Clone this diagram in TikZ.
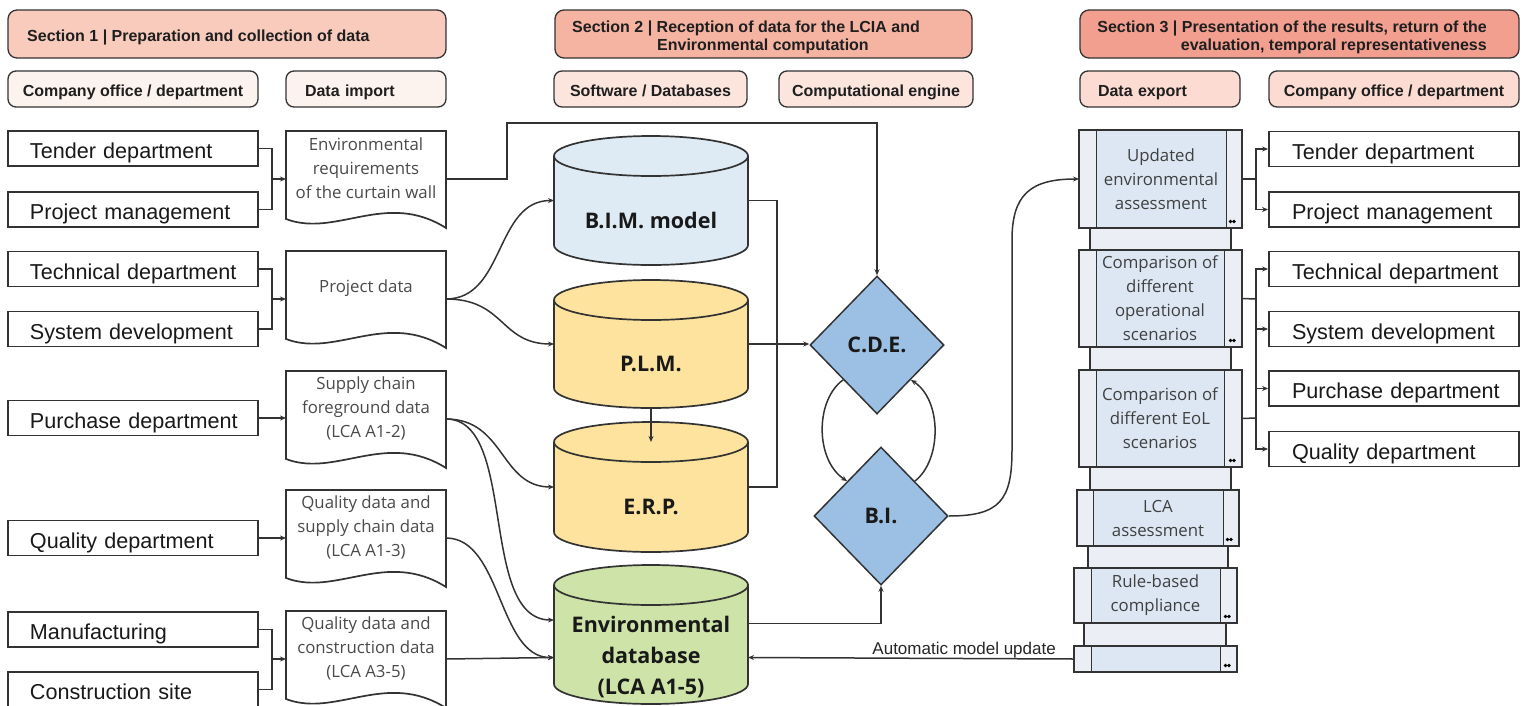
\documentclass[tikz,border=0pt]{standalone}
\usepackage{fontspec}
\setmainfont{Liberation Sans}
\newfontfamily\osans{Open Sans}
\usetikzlibrary{arrows.meta,shapes.geometric,fit,calc}

\definecolor{lineC}{HTML}{333333}
\definecolor{secA}{HTML}{F8CBBC}
\definecolor{secB}{HTML}{F5B3A2}
\definecolor{secC}{HTML}{F29F90}
\definecolor{subA}{HTML}{FCF3EE}
\definecolor{subB}{HTML}{FCE5DD}
\definecolor{subC}{HTML}{FCDCD2}
\definecolor{bimC}{HTML}{DEEBF5}
\definecolor{plmC}{HTML}{FDE39D}
\definecolor{envC}{HTML}{CDE3A8}
\definecolor{diaC}{HTML}{9CC0E4}
\definecolor{stackOut}{HTML}{EBEFF5}
\definecolor{stackIn}{HTML}{DCE7F3}
\definecolor{docText}{HTML}{4A4A4A}

\tikzset{
  secbox/.style={draw=lineC, line width=1.3pt, rounded corners=9pt,
    minimum height=48pt, inner sep=0pt},
  sectext/.style={font=\bfseries\fontsize{16}{18}\selectfont, text=black!88,
    inner sep=0pt},
  subhead/.style={draw=lineC, line width=1.3pt, rounded corners=8pt,
    minimum height=36pt, inner ysep=0pt, text height=15pt, text depth=0pt,
    font=\bfseries\fontsize{16}{18}\selectfont, text=black!88},
  dept/.style={draw=lineC, line width=1.9pt, minimum height=35pt,
    inner xsep=22pt, inner ysep=0pt, text width=206pt, align=left,
    text height=20.5pt, text depth=0pt,
    font=\fontsize{21.6}{24}\selectfont, text=black!90},
  doctext/.style={font=\osans\fontsize{16.8}{24}\selectfont, text=docText,
    align=center, inner sep=0pt},
  docline/.style={draw=lineC, line width=1.7pt},
  conn/.style={draw=lineC, line width=1.5pt},
  arr/.style={conn, -{Stealth[length=6pt,width=5pt]}},
  cyltext/.style={font=\osans\bfseries\fontsize{21.5}{31}\selectfont,
    align=center, text=black!90, inner sep=0pt},
  dia/.style={diamond, draw=lineC, line width=1.5pt, fill=diaC,
    minimum width=134pt, minimum height=138pt, inner sep=0pt,
    font=\osans\bfseries\fontsize{21.5}{24}\selectfont, text=black!90},
  stacktext/.style={font=\osans\fontsize{16.8}{24}\selectfont,
    text=black!75, align=center, inner sep=0pt},
  lbl/.style={font=\fontsize{17}{19}\selectfont, text=black!85, inner sep=0pt},
  boxfit/.style={inner sep=0pt, outer sep=0pt},
}

% document shape (flowchart "document") drawn round a text node
\newcommand\docframe[1]{%
  \draw[docline] ([shift={(-80,-37)}]#1.center) -- ([shift={(80,-37)}]#1.center)
    -- ([shift={(80,60)}]#1.center)
    .. controls ([shift={(20,22)}]#1.center) and ([shift={(-30,70)}]#1.center)
    .. ([shift={(-80,51)}]#1.center) -- cycle;}

% vertical database cylinder: fill, y of top ellipse, y of bottom ellipse
\newcommand\dbcyl[3]{%
  \fill[#1] (554,#2) rectangle (748,#3);
  \fill[#1] (651,#3) ellipse [x radius=97, y radius=20];
  \draw[lineC, line width=1.7pt] (554,#2) -- (554,#3)
    arc [start angle=180, end angle=0, x radius=97, y radius=20] -- (748,#2);
  \draw[lineC, line width=1.7pt, fill=#1] (651,#2) ellipse [x radius=97, y radius=20];}

% export box: name, left, top, right, bottom, inner left, inner right, text
\newcommand\stackbox[8]{%
  \fill[stackOut] (#2,#3) rectangle (#4,#5);
  \fill[stackIn] (#6,#3) rectangle (#7,#5);
  \draw[lineC, line width=0.9pt] (#6,#3) -- (#6,#5) (#7,#3) -- (#7,#5);
  \draw[lineC, line width=1.6pt] (#2,#3) rectangle (#4,#5);
  \fill[black] (#4-11.5,#5-6.5) circle[radius=1.8] (#4-8,#5-6.5) circle[radius=1.8];
  \node[boxfit, fit={(#2,#3) (#4,#5)}] (#1) {};
  \node[stacktext] (#1t) at ({(#6+#7)/2},{(#3+#5)/2}) {#8};}

\begin{document}
\begin{tikzpicture}[x=1pt,y=-1pt]
\fill[white] (0,0) rectangle (1527,705);
\useasboundingbox (0,0) rectangle (1527,705);
\clip (0,0) rectangle (1527,705);

% ---------- section headers ----------
\node[secbox, fill=secA, minimum width=438pt] (s1) at (227,34) {};
\node[secbox, fill=secB, minimum width=417pt] (s2) at (763.5,34) {};
\node[secbox, fill=secC, minimum width=439pt] (s3) at (1299.5,34) {};
\node[sectext, anchor=base west] (s1t) at (27,41.5) {Section 1 | Preparation and collection of data};
\node[sectext, align=left, anchor=west] (s2t) at (572,37.5)
  {Section 2 | Reception of data for the LCIA and\\\hspace*{85pt}Environmental computation};
\node[sectext, align=right, anchor=east] (s3t) at (1487,37.5)
  {Section 3 | Presentation of the results, return of the\\evaluation, temporal representativeness};

\node[subhead, fill=subA, minimum width=250pt] (h1) at (133,89) {Company office / department};
\node[subhead, fill=subA, minimum width=160pt, text width=122pt, align=left,
  inner xsep=19pt] (h2) at (366,89) {Data import};
\node[subhead, fill=subB, minimum width=193pt] (h3) at (650.5,89) {Software / Databases};
\node[subhead, fill=subB, minimum width=194pt] (h4) at (876,89) {Computational engine};
\node[subhead, fill=subC, minimum width=160pt, text width=124pt, align=left,
  inner xsep=18pt] (h5) at (1160,89) {Data export};
\node[subhead, fill=subC, minimum width=250pt] (h6) at (1394,89) {Company office / department};

% ---------- departments (left) ----------
\node[dept] (ltender) at (133,148.5) {\mbox{Tender department}};
\node[dept] (lpm)     at (133,209.5) {\mbox{Project management}};
\node[dept] (ltech)   at (133,269)   {\mbox{Technical department}};
\node[dept] (lsys)    at (133,329)   {\mbox{System development}};
\node[dept] (lpur)    at (133,418)   {\mbox{Purchase department}};
\node[dept] (lqual)   at (133,538)   {\mbox{Quality department}};
\node[dept] (lman)    at (133,629.5) {\mbox{Manufacturing}};
\node[dept] (lcons)   at (133,689.5) {\mbox{Construction site}};

% ---------- imported data documents ----------
\node[doctext] (d1) at (366,168) {Environmental\\requirements\\of the curtain wall};
\node[doctext] (d2) at (366,288) {Project data};
\node[doctext] (d3) at (366,408) {Supply chain\\foreground data\\(LCA A1-2)};
\node[doctext] (d4) at (366,527) {Quality data and\\supply chain data\\(LCA A1-3)};
\node[doctext] (d5) at (366,648) {Quality data and\\construction data\\(LCA A3-5)};
\foreach \d in {d1,d2,d3,d4,d5}{
  \docframe{\d}
  \coordinate (\d in)  at ([shift={(-80,11)}]\d.center);
  \coordinate (\d out) at ([shift={(80,11)}]\d.center);
}

% ---------- databases ----------
\dbcyl{bimC}{156}{245}
\dbcyl{plmC}{300}{388}
\dbcyl{plmC}{442}{532}
\dbcyl{envC}{585}{684}
\node[boxfit, fit={(554,156) (748,245)}] (bim) {};
\node[boxfit, fit={(554,300) (748,388)}] (plm) {};
\node[boxfit, fit={(554,442) (748,532)}] (erp) {};
\node[boxfit, fit={(554,585) (748,684)}] (env) {};
\node[cyltext] (bimt) at (651,220) {B.I.M. model};
\node[cyltext] (plmt) at (651,364) {P.L.M.};
\node[cyltext] (erpt) at (651,507) {E.R.P.};
\node[cyltext] (envt) at (651,657) {Environmental\\database\\(LCA A1-5)};

% ---------- computational engines ----------
\node[dia] (cde) at (877,345) {C.D.E.};
\node[dia] (bi)  at (881,516) {B.I.};

% ---------- export stack ----------
\foreach \l/\t/\r/\b in {1090/228/1231/250, 1090/347/1231/370, 1090/467/1231/490,
                         1088/546/1228/568, 1084/623/1226/646}{
  \fill[stackOut] (\l,\t) rectangle (\r,\b);
  \draw[lineC, line width=1.6pt] (\l,\t) -- (\l,\b) (\r,\t) -- (\r,\b);
}
\stackbox{u1}{1079}{130}{1242}{228}{1096}{1226}{Updated\\environmental\\assessment}
\stackbox{u2}{1079}{250}{1242}{347}{1096}{1224}{Comparison of\\different\\operational\\scenarios}
\stackbox{u3}{1079}{370}{1242}{467}{1096}{1224}{Comparison of\\different EoL\\scenarios}
\stackbox{u4}{1077}{490}{1239}{546}{1093}{1223}{LCA\\assessment}
\stackbox{u5}{1074}{568}{1237}{623}{1091}{1220}{Rule-based\\compliance}
\stackbox{u6}{1074}{646}{1237}{672}{1091}{1220}{}

% ---------- departments (right) ----------
\node[dept, inner xsep=23pt, text width=204pt] (rtender) at (1394,149)   {\mbox{Tender department}};
\node[dept, inner xsep=23pt, text width=204pt] (rpm)     at (1394,209.5) {\mbox{Project management}};
\node[dept, inner xsep=23pt, text width=204pt] (rtech)   at (1394,269)   {\mbox{Technical department}};
\node[dept, inner xsep=23pt, text width=204pt] (rsys)    at (1394,329)   {\mbox{System development}};
\node[dept, inner xsep=23pt, text width=204pt] (rpur)    at (1394,388.5) {\mbox{Purchase department}};
\node[dept, inner xsep=23pt, text width=204pt] (rqual)   at (1394,449)   {\mbox{Quality department}};

% ---------- connectors: departments to documents ----------
\coordinate (j1) at (272,179);
\coordinate (j2) at (272,299);
\coordinate (j3) at (272,659);
\draw[conn] (ltender.east) -| (j1);
\draw[conn] (lpm.east) -| (j1);
\draw[arr] (j1) -- (d1in);
\draw[conn] (ltech.east) -| (j2);
\draw[conn] (lsys.east) -| (j2);
\draw[arr] (j2) -- (d2in);
\draw[arr] (lpur.east) -- (lpur.east -| d3in);
\draw[arr] (lqual.east) -- (lqual.east -| d4in);
\draw[conn] (lman.east) -| (j3);
\draw[conn] (lcons.east) -| (j3);
\draw[arr] (j3) -- (d5in);

% ---------- connectors: documents to databases ----------
\coordinate (k1) at (507,123);
\draw[arr] (d1out) -| (k1) -| (cde.north);
\draw[arr] (d2out) .. controls (505,299) and (495,200.5) .. (bim.west);
\draw[arr] (d2out) .. controls (505,299) and (500,344) .. (plm.west);
\draw[arr] (d3out) .. controls (505,419) and (500,487) .. (erp.west);
\draw[arr] (d3out) .. controls (518,419) and (478,620) .. ([shift={(0,-14.5)}]env.west);
\draw[arr] (d4out) .. controls (502,538) and (498,658) .. ([shift={(0,23)}]env.west);
\draw[arr] (d5out) -- ([shift={(0,23)}]env.west);

% ---------- connectors: databases and engines ----------
\draw[conn] (bim.east) -- ++(29,0) |- (erp.east);
\draw[arr] (plm.east) -- (plm.east -| cde.west);
\draw[arr] ([shift={(0,20)}]plm.south) -- (erp.north);
\draw[arr] ([shift={(0,-11)}]env.east) -| (bi.south);
\draw[arr] (cde.south west) .. controls (815,400) and (815,460) .. (bi.north west);
\draw[arr] (bi.north east) .. controls (942,460) and (942,400) .. (cde.south east);
\draw[arr] (bi.east) .. controls (1000,516) and (1012,500) .. (1012,450)
  -- (1012,240) .. controls (1012,195) and (1030,179) .. (u1.west);
\draw[arr] (u6.west) -- ([shift={(0,23)}]env.east);
\node[lbl, anchor=base east] (upd) at (1056,654) {Automatic model update};

% ---------- connectors: export to departments ----------
\coordinate (rj1) at (1256,179);
\coordinate (rj2) at (1256,299);
\coordinate (rj3) at (1256,418);
\draw[conn] (u1.east) -- (rj1);
\draw[arr] (rj1) |- (rtender.west);
\draw[arr] (rj1) |- (rpm.west);
\draw[conn] (u2.east) -- (rj2);
\draw[conn] (u3.east) -- (rj3);
\draw[conn] (rj2) -- (rj3);
\draw[arr] (rj2) |- (rtech.west);
\draw[arr] (rj2) |- (rsys.west);
\draw[arr] (rj3) |- (rpur.west);
\draw[arr] (rj3) |- (rqual.west);
\end{tikzpicture}
\end{document}
